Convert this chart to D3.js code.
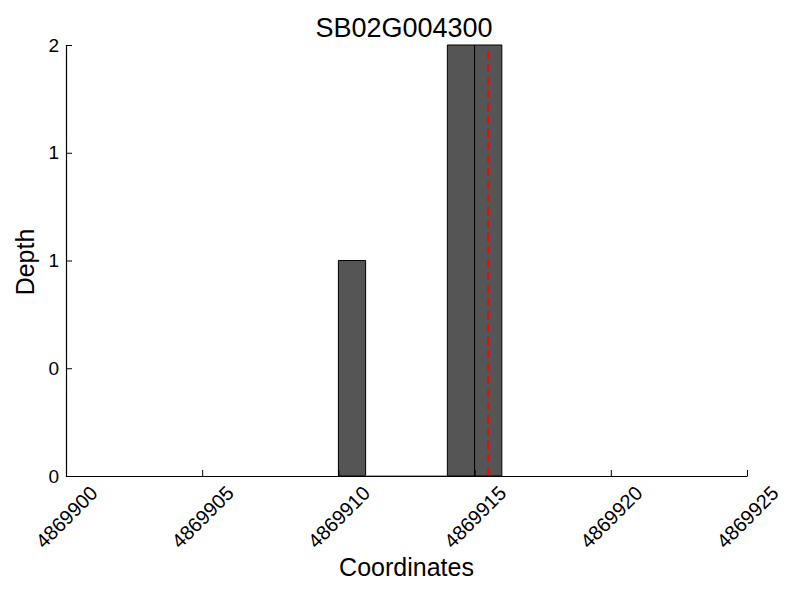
<!DOCTYPE html>
<html>
<head>
<meta charset="utf-8">
<script src="https://cdn.jsdelivr.net/npm/d3@7"></script>
<style>
  body { margin: 0; background: #fff; }
  text { font-family: "Liberation Sans", Arial, sans-serif; }
</style>
</head>
<body>
<svg></svg>
<script>
const title = "SB02G004300"
const positions = [4869910, 4869911, 4869912, 4869913, 4869914, 4869915]
const depths = [1, 0, 0, 0, 2, 2]
const markerPos = 4869915.5
const xTicks = [4869900, 4869905, 4869910, 4869915, 4869920, 4869925]
const yTicks = [0, 0.5, 1, 1.5, 2]

const svg = d3.select("svg").attr("width", 800).attr("height", 600),
  margin = {top: 45, right: 53, bottom: 124, left: 66},
  width = 800 - margin.left - margin.right,
  height = 600 - margin.top - margin.bottom,
  chart = svg.append("g").attr("transform", `translate(${margin.left},${margin.top})`)

const x = d3.scaleLinear().domain([4869900, 4869925]).range([0, width]),
      y = d3.scaleLinear().domain([0, 2]).range([height, 0])

const data = positions.map((p, i) => ({pos: p, depth: depths[i]}))

// bars drawn as paths so zero-depth bins still show their outline
chart.selectAll("path.bar").data(data).join("path").attr("class", "bar")
  .attr("d", d => `M${x(d.pos)},${y(0)}V${y(d.depth)}H${x(d.pos + 1)}V${y(0)}Z`)
  .style("fill", "#555555").style("stroke", d => d.depth ? "black" : "#888").style("stroke-width", 1)

chart.append("line").attr("x1", x(markerPos)).attr("x2", x(markerPos)).attr("y1", y(2) + 6).attr("y2", y(0))
  .style("stroke", "red").style("stroke-width", 2).style("stroke-dasharray", "8,5")

const xAxis = chart.append("g").attr("transform", `translate(0,${height})`)
  .call(d3.axisBottom(x).tickValues(xTicks).tickSizeInner(-6).tickSizeOuter(0).tickFormat(d3.format("d")))
xAxis.select(".domain").style("stroke-width", 1.2)
xAxis.selectAll(".tick text")
  .attr("y", 0).attr("dy", "0.35em")
  .attr("transform", "translate(0,41) rotate(-45)")
  .style("text-anchor", "middle").style("font-size", "20px").style("fill", "black")

const yAxis = chart.append("g")
  .call(d3.axisLeft(y).tickValues(yTicks).tickSizeInner(-6).tickSizeOuter(0).tickFormat(d => Math.trunc(d)))
yAxis.select(".domain").style("stroke-width", 1.2)
yAxis.selectAll(".tick text").attr("x", -7).style("font-size", "19px").style("fill", "black")

svg.append("text").text(title).attr("x", 404).attr("y", 37)
  .style("text-anchor", "middle").style("font-size", "27px")

svg.append("text").text("Coordinates").attr("x", margin.left + width / 2).attr("y", 576)
  .style("text-anchor", "middle").style("font-size", "25px")

svg.append("text").text("Depth").attr("transform", "translate(34,262) rotate(-90)")
  .style("text-anchor", "middle").style("font-size", "25px")
</script>
</body>
</html>
